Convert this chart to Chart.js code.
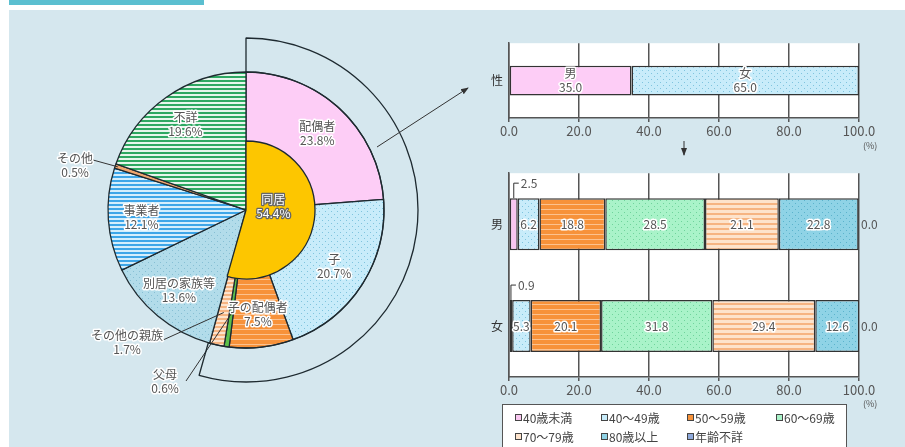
<!DOCTYPE html>
<html>
<head>
<meta charset="utf-8">
<script src="https://cdn.jsdelivr.net/npm/chart.js@4.4.1/dist/chart.umd.min.js"></script>
<style>
  body { margin: 0; width: 905px; height: 447px; background: #fff; position: relative; overflow: hidden;
         font-family: 'Noto Sans CJK JP', sans-serif; }
  #bg { position: absolute; left: 9px; top: 10px; right: 0; bottom: 0; background: #d5e7ee; }
  #tab { position: absolute; left: 9px; top: 0; width: 195px; height: 5px; background: #5bbfd0; }
  canvas { position: absolute; }
  .unit { position: absolute; font-size: 9px; color: #555; }
  #legend { position: absolute; left: 502px; top: 404px; width: 345px; height: 44px; background: #fff;
            border: 1px solid #555; box-sizing: border-box; font-size: 12px; color: #444; }
  #legend span { position: absolute; white-space: nowrap; line-height: 14px; }
  #legend i { display: inline-block; width: 5px; height: 5px; border: 1px solid #444; margin-right: 1px;
              vertical-align: 2px; }
  svg { position: absolute; left: 0; top: 0; }
</style>
</head>
<body>
<div id="bg"></div>
<div id="tab"></div>
<canvas id="pieA" width="492" height="420" style="left:0;top:0"></canvas>
<canvas id="pieB" width="492" height="420" style="left:0;top:0"></canvas>
<canvas id="sexChart" width="420" height="108" style="left:470px;top:30px"></canvas>
<canvas id="ageChart" width="420" height="237" style="left:470px;top:160px"></canvas>
<div class="unit" style="left:863px;top:139px">(%)</div>
<div class="unit" style="left:863px;top:397px">(%)</div>
<div id="legend"></div>
<svg width="905" height="447">
  <defs>
    <marker id="ah" markerWidth="8" markerHeight="8" refX="7" refY="4" orient="auto" markerUnits="userSpaceOnUse">
      <path d="M0,1 L8,4 L0,7 z" fill="#333"/>
    </marker>
  </defs>
  <line x1="377" y1="147" x2="468" y2="88" stroke="#333" stroke-width="1" marker-end="url(#ah)"/>
  <line x1="684" y1="141" x2="684" y2="155" stroke="#333" stroke-width="1" marker-end="url(#ah)"/>
</svg>
<script>
// 相手との関係（外側の円）
const pieLabels = ['配偶者', '子', '子の配偶者', '父母', 'その他の親族', '別居の家族等', '事業者', 'その他', '不詳'];
const pieValues = [23.8, 20.7, 7.5, 0.6, 1.7, 13.6, 12.1, 0.5, 19.6];
// 同居（内側）
const livingLabel = '同居';
const livingValue = 54.4;

// 性別
const sexCategory = ['性'];
const sexLabels = ['男', '女'];
const sexValues = [35.0, 65.0];

// 年齢階級
const genderCategories = ['男', '女'];
const ageGroups = ['40歳未満', '40～49歳', '50～59歳', '60～69歳', '70～79歳', '80歳以上', '年齢不詳'];
const maleAge = [2.5, 6.2, 18.8, 28.5, 21.1, 22.8, 0.0];
const femaleAge = [0.9, 5.3, 20.1, 31.8, 29.4, 12.6, 0.0];

const FONT = '"Noto Sans CJK JP", sans-serif';
const EDGE = '#1e2a30';
const CLEAR = 'rgba(0,0,0,0)';

function stripes(bg, fg, period, line) {
  const c = document.createElement('canvas');
  c.width = 8; c.height = period;
  const g = c.getContext('2d');
  g.fillStyle = bg; g.fillRect(0, 0, 8, period);
  g.fillStyle = fg; g.fillRect(0, period - line, 8, line);
  return g.createPattern(c, 'repeat');
}
function dots(bg, fg) {
  const c = document.createElement('canvas');
  c.width = 6; c.height = 6;
  const g = c.getContext('2d');
  g.fillStyle = bg; g.fillRect(0, 0, 6, 6);
  g.fillStyle = fg; g.fillRect(1, 1, 1, 1); g.fillRect(4, 4, 1, 1);
  return g.createPattern(c, 'repeat');
}

const pieColors = [
  '#fdcdf6',
  dots('#c8ecfa', '#7fc4de'),
  stripes('#f7923a', '#fcc28f', 5, 1),
  '#5cc04a',
  stripes('#fde3cc', '#f6b482', 4, 2),
  dots('#b2dcea', '#86bfd4'),
  stripes('#3ea6e8', '#d4eefc', 4, 2),
  '#f0a56e',
  stripes('#2ea862', '#e6f6ec', 4, 2)
];
const ageColors = [
  '#f9c6f0',
  dots('#c8ecfa', '#7fc4de'),
  stripes('#f7923a', '#fcc28f', 5, 1),
  dots('#a9f3c9', '#6fd49c'),
  stripes('#fde3cc', '#f6b482', 5, 2),
  dots('#8fd3e6', '#5bb3cc'),
  '#8ea9db'
];
const ageLegendColors = ['#f9c6f0', '#c8ecfa', '#f7923a', '#a9f3c9', '#fde3cc', '#8fd3e6', '#8ea9db'];
const sexColors = ['#fdcdf6', dots('#c8ecfa', '#7fc4de')];

function haloText(ctx, text, x, y, fill, stroke, lw) {
  ctx.lineJoin = 'round';
  if (lw > 0) {
    ctx.strokeStyle = stroke; ctx.lineWidth = lw;
    ctx.strokeText(text, x, y);
  }
  ctx.fillStyle = fill;
  ctx.fillText(text, x, y);
}

// small slices get a label outside with a leader line
const pieCallouts = {
  'その他':       { tx: 75,  ty: 158, lx: 93,  ly: 160, r: 0.98 },
  'その他の親族': { tx: 127, ty: 335, lx: 163, ly: 340, r: 0.76 },
  '父母':         { tx: 165, ty: 374, lx: 186, ly: 381, r: 0.76 }
};

const pieLabelPlugin = {
  id: 'pieLabels',
  afterDatasetsDraw(chart) {
    const ctx = chart.ctx;
    const arcs = chart.getDatasetMeta(0).data;
    ctx.save();
    ctx.font = '12px ' + FONT;
    ctx.textAlign = 'center';
    ctx.textBaseline = 'middle';
    arcs.forEach((arc, i) => {
      const p = arc.getProps(['x', 'y', 'startAngle', 'endAngle', 'outerRadius'], true);
      const mid = (p.startAngle + p.endAngle) / 2;
      const lines = [pieLabels[i], pieValues[i].toFixed(1) + '%'];
      const c = pieCallouts[pieLabels[i]];
      let tx, ty;
      if (c) {
        const ex = p.x + Math.cos(mid) * p.outerRadius * c.r;
        const ey = p.y + Math.sin(mid) * p.outerRadius * c.r;
        ctx.strokeStyle = '#333'; ctx.lineWidth = 1;
        ctx.beginPath(); ctx.moveTo(c.lx, c.ly); ctx.lineTo(ex, ey); ctx.stroke();
        tx = c.tx; ty = c.ty;
      } else {
        tx = p.x + Math.cos(mid) * p.outerRadius * 0.76;
        ty = p.y + Math.sin(mid) * p.outerRadius * 0.76 - 7;
      }
      haloText(ctx, lines[0], tx, ty, '#555', '#fff', 3);
      haloText(ctx, lines[1], tx, ty + 14, '#555', '#fff', 3);
    });
    ctx.restore();
  }
};

const innerLabelPlugin = {
  id: 'innerLabel',
  afterDatasetsDraw(chart) {
    const ctx = chart.ctx;
    const arc = chart.getDatasetMeta(2).data[0];
    const p = arc.getProps(['x', 'y', 'startAngle', 'endAngle', 'outerRadius'], true);
    const mid = (p.startAngle + p.endAngle) / 2;
    const tx = p.x + Math.cos(mid) * p.outerRadius * 0.4;
    const ty = p.y + Math.sin(mid) * p.outerRadius * 0.4 - 14;
    ctx.save();
    ctx.font = '12px ' + FONT;
    ctx.textAlign = 'center';
    ctx.textBaseline = 'middle';
    haloText(ctx, livingLabel, tx, ty, '#fff', '#666', 2.5);
    haloText(ctx, livingValue.toFixed(1) + '%', tx, ty + 14, '#fff', '#666', 2.5);
    ctx.restore();
  }
};

const commonOff = {
  responsive: false,
  animation: false,
  events: [],
  plugins: { legend: { display: false }, tooltip: { enabled: false } }
};

// 外側の円（相手との関係）
new Chart(document.getElementById('pieA'), {
  type: 'pie',
  data: {
    labels: pieLabels,
    datasets: [{
      data: pieValues,
      backgroundColor: pieColors,
      borderColor: EDGE,
      borderWidth: 1.3,
      radius: 138
    }]
  },
  options: { ...commonOff, layout: { padding: 0 } },
  plugins: [pieLabelPlugin]
});

// 同居の内円と外側の括弧
new Chart(document.getElementById('pieB'), {
  type: 'doughnut',
  data: {
    labels: [livingLabel, ''],
    datasets: [
      { data: [livingValue, 100 - livingValue], backgroundColor: [CLEAR, CLEAR],
        borderColor: [EDGE, CLEAR], borderWidth: [1.3, 0], weight: 34 },
      { data: [100], backgroundColor: [CLEAR], borderWidth: 0, weight: 69 },
      { data: [livingValue, 100 - livingValue], backgroundColor: ['#fdc600', CLEAR],
        borderColor: [EDGE, CLEAR], borderWidth: [1.3, 0], weight: 69 }
    ]
  },
  options: { ...commonOff, cutout: 0, radius: 172, layout: { padding: 0 } },
  plugins: [innerLabelPlugin]
});

const areaBg = {
  id: 'areaBg',
  beforeDraw(chart) {
    const a = chart.chartArea;
    chart.ctx.save();
    chart.ctx.fillStyle = '#fff';
    chart.ctx.fillRect(a.left, a.top, a.right - a.left, a.bottom - a.top);
    chart.ctx.restore();
  }
};

const barLabelPlugin = {
  id: 'barLabels',
  afterDatasetsDraw(chart, args, opts) {
    const ctx = chart.ctx;
    const area = chart.chartArea;
    ctx.save();
    ctx.font = '12px ' + FONT;
    ctx.textBaseline = 'middle';
    chart.data.datasets.forEach((ds, i) => {
      chart.getDatasetMeta(i).data.forEach((bar, j) => {
        const v = ds.data[j];
        const p = bar.getProps(['x', 'y', 'base', 'height'], true);
        const cx = (p.x + p.base) / 2;
        const txt = v.toFixed(1);
        if (v === 0) {
          ctx.textAlign = 'left';
          haloText(ctx, txt, area.right + 2, p.y, '#555', '', 0);
        } else if (v < 3) {
          const top = p.y - p.height / 2;
          ctx.strokeStyle = '#333'; ctx.lineWidth = 1;
          ctx.beginPath();
          ctx.moveTo(cx, top); ctx.lineTo(cx, top - 15); ctx.lineTo(cx + 5, top - 15);
          ctx.stroke();
          ctx.textAlign = 'left';
          haloText(ctx, txt, cx + 7, top - 15, '#555', '#fff', 3);
        } else if (opts.withName) {
          ctx.textAlign = 'center';
          haloText(ctx, ds.label, cx, p.y - 7, '#555', '#fff', 3);
          haloText(ctx, txt, cx, p.y + 7, '#555', '#fff', 3);
        } else {
          ctx.textAlign = 'center';
          haloText(ctx, txt, cx, p.y, '#555', '#fff', 3);
        }
      });
    });
    ctx.restore();
  }
};

function barOptions(topPad, withName) {
  return {
    ...commonOff,
    indexAxis: 'y',
    layout: { padding: { left: 0, right: 31, top: topPad, bottom: 0 } },
    plugins: { ...commonOff.plugins, barLabels: { withName: withName } },
    scales: {
      x: {
        stacked: true, min: 0, max: 100,
        ticks: { stepSize: 20, callback: v => v.toFixed(1), color: '#555', font: { size: 13, family: FONT }, padding: 1, maxRotation: 0 },
        grid: { color: '#555', lineWidth: 1.5, tickLength: 4 },
        border: { color: '#555', width: 1.5 },
        afterFit: s => { s.height = 20; }
      },
      y: {
        stacked: true,
        ticks: { color: '#333', font: { size: 12, family: FONT }, padding: 6 },
        grid: { display: false, drawTicks: false },
        border: { color: '#555', width: 1.5 },
        afterFit: s => { s.width = 39; }
      }
    }
  };
}

// 性別
new Chart(document.getElementById('sexChart'), {
  type: 'bar',
  data: {
    labels: sexCategory,
    datasets: sexLabels.map((name, i) => ({
      label: name,
      data: [sexValues[i]],
      backgroundColor: sexColors[i],
      borderColor: '#333',
      borderWidth: 1.5,
      borderSkipped: false,
      categoryPercentage: 1,
      barPercentage: 0.4
    }))
  },
  options: barOptions(5, true),
  plugins: [areaBg, barLabelPlugin]
});

// 性・年齢階級
new Chart(document.getElementById('ageChart'), {
  type: 'bar',
  data: {
    labels: genderCategories,
    datasets: ageGroups.map((name, i) => ({
      label: name,
      data: [maleAge[i], femaleAge[i]],
      backgroundColor: ageColors[i],
      borderColor: '#333',
      borderWidth: 1.5,
      borderSkipped: false,
      categoryPercentage: 1,
      barPercentage: 0.51
    }))
  },
  options: barOptions(7, false),
  plugins: [areaBg, barLabelPlugin]
});

// 凡例
const legendCols = [12, 98, 184, 273];
const legend = document.getElementById('legend');
ageGroups.forEach((name, i) => {
  const s = document.createElement('span');
  s.style.left = legendCols[i % 4] + 'px';
  s.style.top = (i < 4 ? 6 : 25) + 'px';
  s.innerHTML = '<i style="background:' + ageLegendColors[i] + '"></i>' + name;
  legend.appendChild(s);
});
</script>
</body>
</html>
